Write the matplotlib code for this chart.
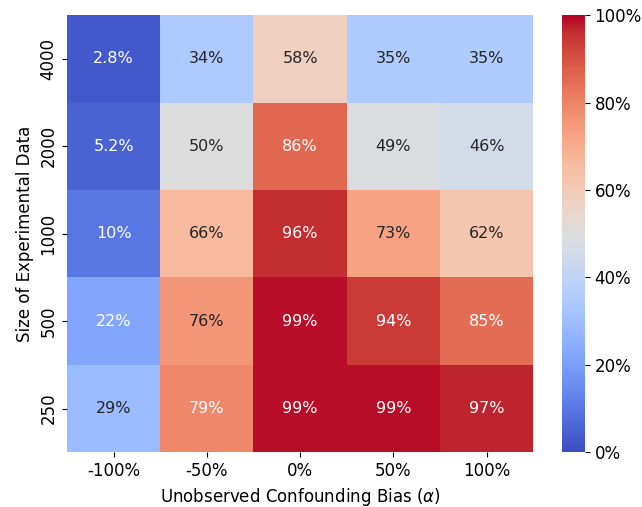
import numpy as np
import matplotlib
matplotlib.use("Agg")
import matplotlib.pyplot as plt
import seaborn as sns
from matplotlib.ticker import PercentFormatter

bias_labels = ["-100%", "-50%", "0%", "50%", "100%"]
size_labels = ["4000", "2000", "1000", "500", "250"]

# share of runs, rows top to bottom by experimental data size
rates = np.array([
    [0.028, 0.34, 0.58, 0.35, 0.35],
    [0.052, 0.50, 0.86, 0.49, 0.46],
    [0.10, 0.66, 0.96, 0.73, 0.62],
    [0.22, 0.76, 0.99, 0.94, 0.85],
    [0.29, 0.79, 0.99, 0.99, 0.97],
])

def pct(v):
    p = v * 100
    return f"{p:.1f}%" if p < 10 else f"{p:.0f}%"

labels = np.array([[pct(v) for v in row] for row in rates])

fig = plt.figure(figsize=(6.42, 5.07), dpi=100)
ax = fig.add_axes([0.1044, 0.108, 0.726, 0.862])
cax = fig.add_axes([0.875, 0.108, 0.036, 0.862])

sns.heatmap(rates, ax=ax, cbar_ax=cax, cmap="coolwarm", vmin=0, vmax=1,
            annot=labels, fmt="", annot_kws={"fontsize": 11.5},
            xticklabels=bias_labels, yticklabels=size_labels)

ax.set_xlabel(r"Unobserved Confounding Bias ($\alpha$)", fontsize=12)
ax.set_ylabel("Size of Experimental Data", fontsize=12)
ax.tick_params(labelsize=12)
plt.setp(ax.get_yticklabels(), rotation=90, va="center")

cax.yaxis.set_major_formatter(PercentFormatter(1.0, decimals=0))
cax.tick_params(labelsize=12)

fig.savefig("out.png", dpi=100)
